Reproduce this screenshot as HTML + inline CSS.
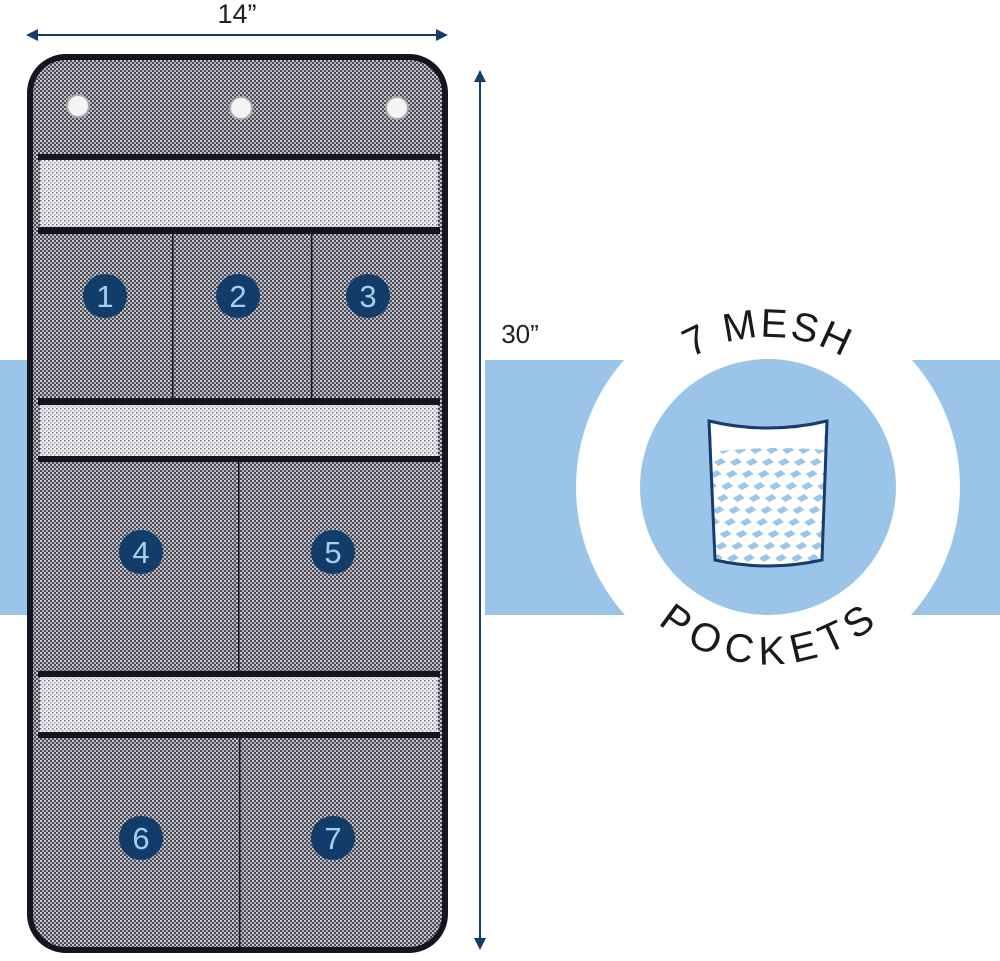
<!DOCTYPE html>
<html><head><style>
html,body{margin:0;padding:0;background:#fff;width:1000px;height:961px;overflow:hidden}
svg{display:block}
</style></head><body>
<svg width="1000" height="961" viewBox="0 0 1000 961" xmlns="http://www.w3.org/2000/svg" font-family="Liberation Sans, sans-serif">
<defs>
<pattern id="dm" width="4" height="4" patternUnits="userSpaceOnUse">
<rect width="4" height="4" fill="#4a4a55"/>
<rect x="0" y="0" width="2" height="2" fill="#c8c8d0"/>
<rect x="2" y="2" width="2" height="2" fill="#b0b0ba"/>
</pattern>
<pattern id="lm" width="4" height="4" patternUnits="userSpaceOnUse">
<rect width="4" height="4" fill="#f0f0f2"/>
<rect x="0" y="0" width="1.5" height="1.5" fill="#70707a"/>
<rect x="2" y="2" width="1.5" height="1.5" fill="#a0a0a8"/>
</pattern>
<pattern id="cm" width="16" height="12" patternUnits="userSpaceOnUse" patternTransform="skewX(-20)">
<rect width="16" height="12" fill="#fff"/>
<path d="M8 2 L14 6 L8 10 L2 6Z" fill="#9cc6e8"/>
</pattern>
<path id="arcTop" d="M618 487 A150 150 0 0 1 918 487"/>
<path id="arcBot" d="M630 520 A140 140 0 0 0 906 520"/>
</defs>
<rect x="0" y="360" width="30" height="255" fill="#9bc5e8"/>
<rect x="485" y="360" width="515" height="255" fill="#9bc5e8"/>
<circle cx="768" cy="487" r="192" fill="#fff"/>
<circle cx="768" cy="487" r="128" fill="#9bc5e8"/>
<path d="M709 421 Q768 435 827 421 L822 560 Q768 572 715 560 Z" fill="url(#cm)"/>
<path d="M711 423 Q768 437 825 423 L824 450 Q768 445 712 452 Z" fill="#fff"/>
<path d="M709 421 Q768 435 827 421 L822 560 Q768 572 715 560 Z" fill="none" stroke="#163c6a" stroke-width="3"/>
<text font-size="40" fill="#1a1a1a" letter-spacing="2"><textPath href="#arcTop" startOffset="50%" text-anchor="middle">7 MESH</textPath></text>
<text font-size="40" fill="#1a1a1a" letter-spacing="2"><textPath href="#arcBot" startOffset="50%" text-anchor="middle" dominant-baseline="hanging">POCKETS</textPath></text>
<rect x="30" y="57" width="415" height="893" rx="36" fill="url(#dm)" stroke="#15151f" stroke-width="6"/>
<rect x="40" y="160" width="398" height="67" fill="url(#lm)"/>
<rect x="40" y="405" width="398" height="53" fill="url(#lm)"/>
<rect x="40" y="677" width="398" height="56" fill="url(#lm)"/>
<g fill="#15151f">
<rect x="38" y="154" width="402" height="6"/>
<rect x="38" y="227" width="402" height="7"/>
<rect x="38" y="398" width="402" height="7"/>
<rect x="38" y="456" width="402" height="6"/>
<rect x="38" y="671" width="402" height="6"/>
<rect x="38" y="732" width="402" height="6"/>
<rect x="172" y="230" width="1.5" height="170"/>
<rect x="311" y="230" width="1.5" height="170"/>
<rect x="238" y="460" width="1.5" height="215"/>
<rect x="239" y="735" width="1.5" height="212"/>
</g>
<g fill="#f4f4f4" stroke="#aaa" stroke-width="2">
<circle cx="78" cy="106" r="11"/><circle cx="241" cy="108" r="11"/><circle cx="397" cy="108" r="11"/>
</g>
<g fill="#123d6b">
<circle cx="105" cy="296" r="22"/><circle cx="238" cy="296" r="22"/><circle cx="368" cy="296" r="22"/>
<circle cx="141" cy="552" r="22"/><circle cx="333" cy="552" r="22"/>
<circle cx="141" cy="838" r="22"/><circle cx="333" cy="838" r="22"/>
</g>
<g fill="#a9cdec" font-size="31" text-anchor="middle">
<text x="105" y="307">1</text><text x="238" y="307">2</text><text x="368" y="307">3</text>
<text x="141" y="563">4</text><text x="333" y="563">5</text>
<text x="141" y="849">6</text><text x="333" y="849">7</text>
</g>
<line x1="34" y1="35" x2="440" y2="35" stroke="#163c6a" stroke-width="2"/>
<path d="M26 35 L38 29 L38 41Z M448 35 L436 29 L436 41Z" fill="#163c6a"/>
<line x1="480" y1="80" x2="480" y2="940" stroke="#163c6a" stroke-width="2"/>
<path d="M480 70 L474 82 L486 82Z M480 950 L474 938 L486 938Z" fill="#163c6a"/>
<text x="237" y="23" font-size="27" fill="#222" text-anchor="middle">14”</text>
<text x="520" y="343" font-size="26" fill="#222" text-anchor="middle">30”</text>
</svg>
</body></html>
